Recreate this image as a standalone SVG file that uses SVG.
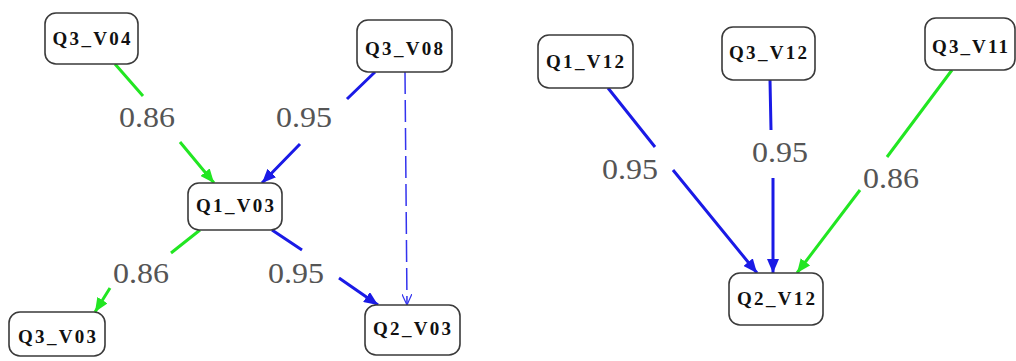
<svg xmlns="http://www.w3.org/2000/svg" width="1016" height="361" viewBox="0 0 1016 361">
<style>
.box{fill:#fff;stroke:#3a3a3a;stroke-width:1.6}
.nt{font-weight:bold;font-size:19px;fill:#111;text-anchor:middle}
.lb{font-size:29px;fill:#555;text-anchor:middle}
.b{stroke:#1a1ae6;stroke-width:3;fill:none}
.g{stroke:#22e622;stroke-width:3;fill:none}
.d{stroke:#3333ee;stroke-width:1.5;fill:none;stroke-dasharray:22,6}
</style>
<defs>
<marker id="ab" markerUnits="userSpaceOnUse" markerWidth="14" markerHeight="12" refX="14" refY="6" orient="auto"><path d="M0,0 L14,6 L0,12 z" fill="#1a1ae6"/></marker>
<marker id="ag" markerUnits="userSpaceOnUse" markerWidth="14" markerHeight="12" refX="14" refY="6" orient="auto"><path d="M0,0 L14,6 L0,12 z" fill="#22e622"/></marker>
<marker id="ao" markerUnits="userSpaceOnUse" markerWidth="12" markerHeight="10" refX="11" refY="5" orient="auto"><path d="M0,0 L11,5 L0,10" fill="none" stroke="#3333ee" stroke-width="1.2"/></marker>
</defs>
<g id="connectors">
<path class="g" d="M115,64 L143,96 M180,142 L214,183" marker-end="url(#ag)"/>
<path class="b" d="M375,72 L347,99 M300,144 L262,183" marker-end="url(#ab)"/>
<path class="d" d="M405,72 L407,305" marker-end="url(#ao)"/>
<path class="g" d="M200,230 L171,253 M110,288 L95,312" marker-end="url(#ag)"/>
<path class="b" d="M272,230 L302,250 M339,278 L378,305" marker-end="url(#ab)"/>
<path class="b" d="M608,88 L655,147 M673,170 L757,273" marker-end="url(#ab)"/>
<path class="b" d="M770,80 L771,130 M773,178 L773,273" marker-end="url(#ab)"/>
<path class="g" d="M952,70 L887,157 M860,190 L797,273" marker-end="url(#ag)"/>
<g font-family="Liberation Serif, serif">
<text class="lb" x="147" y="127" textLength="56" lengthAdjust="spacingAndGlyphs">0.86</text>
<text class="lb" x="304" y="127" textLength="56" lengthAdjust="spacingAndGlyphs">0.95</text>
<text class="lb" x="141" y="283" textLength="56" lengthAdjust="spacingAndGlyphs">0.86</text>
<text class="lb" x="296" y="283" textLength="56" lengthAdjust="spacingAndGlyphs">0.95</text>
<text class="lb" x="630" y="179" textLength="56" lengthAdjust="spacingAndGlyphs">0.95</text>
<text class="lb" x="780" y="162" textLength="56" lengthAdjust="spacingAndGlyphs">0.95</text>
<text class="lb" x="891" y="188" textLength="56" lengthAdjust="spacingAndGlyphs">0.86</text>
</g>
</g>
<g font-family="Liberation Serif, serif">
<g id="Q3_V04"><rect class="box" x="45" y="13" width="93" height="51" rx="11"/><text class="nt" x="91.5" y="45" textLength="78">Q3_V04</text></g>
<g id="Q1_V03"><rect class="box" x="188" y="183" width="94" height="47" rx="11"/><text class="nt" x="235" y="212" textLength="78">Q1_V03</text></g>
<g id="Q3_V03"><rect class="box" x="9" y="312" width="96" height="44" rx="11"/><text class="nt" x="57" y="343" textLength="78">Q3_V03</text></g>
<g id="Q3_V08"><rect class="box" x="357" y="20" width="95" height="52" rx="11"/><text class="nt" x="404" y="55" textLength="78">Q3_V08</text></g>
<g id="Q2_V03"><rect class="box" x="365" y="305" width="95" height="50" rx="11"/><text class="nt" x="412" y="335" textLength="78">Q2_V03</text></g>
<g id="Q1_V12"><rect class="box" x="538" y="35" width="95" height="53" rx="11"/><text class="nt" x="585" y="68" textLength="78">Q1_V12</text></g>
<g id="Q3_V12"><rect class="box" x="722" y="27" width="93" height="53" rx="11"/><text class="nt" x="768" y="59" textLength="78">Q3_V12</text></g>
<g id="Q3_V11"><rect class="box" x="925" y="18" width="90" height="52" rx="11"/><text class="nt" x="970" y="53" textLength="76">Q3_V11</text></g>
<g id="Q2_V12"><rect class="box" x="729" y="273" width="94" height="52" rx="11"/><text class="nt" x="776" y="305" textLength="78">Q2_V12</text></g>
</g>
</svg>
